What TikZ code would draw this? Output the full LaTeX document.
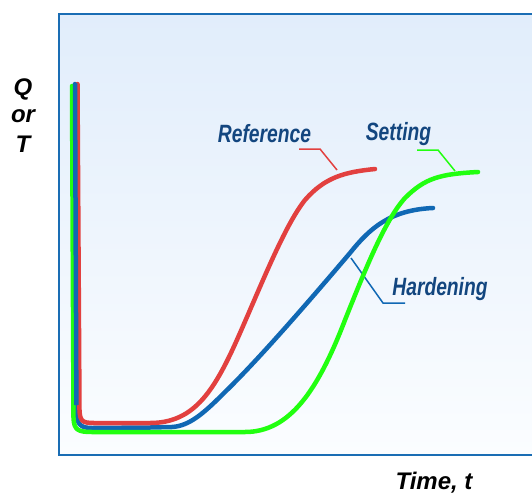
\documentclass[tikz,border=0pt]{standalone}
\usepackage{fontspec}
\setmainfont{Liberation Sans}
\definecolor{framecol}{HTML}{1A6DB4}
\definecolor{bgtop}{HTML}{E1EDFB}
\definecolor{bgbot}{HTML}{FBFDFF}
\definecolor{redc}{HTML}{E2403F}
\definecolor{bluec}{HTML}{1068B4}
\definecolor{greenc}{HTML}{22FF10}
\definecolor{labc}{HTML}{13467F}
\tikzset{
  curve/.style={line width=4.5pt, line cap=round, line join=round},
  leader/.style={line width=1.5pt},
  axlab/.style={font=\fontsize{24}{28}\selectfont\bfseries\itshape, text=black, inner sep=0pt, anchor=base},
  curvelab/.style={font=\fontsize{25}{28}\selectfont\bfseries\itshape, text=labc, inner sep=0pt, anchor=base, xscale=0.77},
}
\begin{document}
\begin{tikzpicture}[x=1pt,y=-1pt]
\useasboundingbox (0,0) rectangle (532,495);
\fill[white] (0,0) rectangle (532,495);
\begin{scope}
\clip (0,0) rectangle (532,495);
\shade[top color=bgtop, bottom color=bgbot] (59,14) rectangle (545,455);
\draw[framecol, line width=2.6pt] (545,14) -- (59,14) -- (59,455) -- (545,455);

% blue: Hardening
\draw[curve, bluec] (75,84) -- (76.5,412) .. controls (77,424) and (80,428) .. (92,428)
  -- (150,427.5) -- (172,427)
  .. controls (190,426) and (205,412) .. (225,392)
  .. controls (260,358) and (310,300) .. (350,253)
  .. controls (370,228) and (390,210) .. (433,208);
\coordinate (hA) at (351,258);
\coordinate (hB) at (383,303);
\coordinate (hC) at (405,303);
\draw[leader, bluec] (hA) -- (hB) -- (hC);

% green: Setting
\draw[curve, greenc] (72,86) -- (73.5,418) .. controls (74,430) and (78,432) .. (92,432)
  -- (245,432)
  .. controls (290,432) and (318,390) .. (345,320)
  .. controls (365,270) and (385,220) .. (405,198)
  .. controls (425,178) and (440,174) .. (478,172);
\coordinate (sA) at (455,171);
\coordinate (sB) at (438,150);
\coordinate (sC) at (417,150);
\draw[leader, greenc] (sA) -- (sB) -- (sC);

% red: Reference
\draw[curve, redc] (77.5,84) -- (79.5,410) .. controls (80,421) and (82,423) .. (94,423)
  -- (150,423)
  .. controls (195,423) and (215,390) .. (240,333)
  .. controls (262,283) and (285,225) .. (305,200)
  .. controls (325,177) and (345,172) .. (375,169);
\coordinate (rA) at (337,170);
\coordinate (rB) at (320,149);
\coordinate (rC) at (299,149);
\draw[leader, redc] (rA) -- (rB) -- (rC);

% blue vertical on top
\draw[bluec, line width=4.5pt] (75,83) -- (76.4,405);
\end{scope}

\node[curvelab] (reflab) at (264.5,142) {Reference};
\node[curvelab] (setlab) at (398.5,140) {Setting};
\node[curvelab] (hardlab) at (440,295) {Hardening};

\node[axlab] (q) at (23,95) {Q};
\node[axlab] (or) at (23,122) {or};
\node[axlab] (t) at (23,152) {T};
\node[axlab] (time) at (434,489) {Time, t};
\end{tikzpicture}
\end{document}
